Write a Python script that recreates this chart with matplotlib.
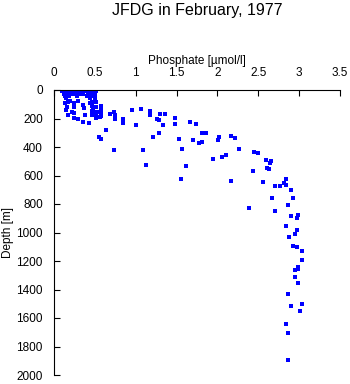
import matplotlib
matplotlib.use("Agg")
import matplotlib.pyplot as plt

plt.rcParams['font.family'] = ['Liberation Sans', 'DejaVu Sans']

title = "JFDG in February, 1977"
x_label = "Phosphate [\u00b5mol/l]"
y_label = "Depth [m]"
x_ticks = [0, 0.5, 1, 1.5, 2, 2.5, 3, 3.5]
x_tick_labels = ["0", "0.5", "1", "1.5", "2", "2.5", "3", "3.5"]
y_ticks = list(range(0, 2001, 200))

# surface samples (dense cluster near 0-250 m)
surface_phos = [0.10, 0.13, 0.15, 0.18, 0.20, 0.23, 0.25, 0.28, 0.31, 0.35, 0.38, 0.42, 0.45, 0.48, 0.51,
                0.12, 0.16, 0.19, 0.22, 0.26, 0.30, 0.36, 0.41, 0.46, 0.50,
                0.13, 0.18, 0.28, 0.40, 0.47,
                0.15, 0.20, 0.13, 0.17, 0.24, 0.29, 0.24, 0.16, 0.15, 0.22, 0.24, 0.17, 0.24, 0.29, 0.35, 0.43,
                0.35, 0.37, 0.38, 0.44, 0.46, 0.44, 0.50, 0.52, 0.46, 0.48, 0.52, 0.58, 0.58, 0.46, 0.51,
                0.57, 0.57, 0.52, 0.56, 0.46, 0.52, 0.56, 0.58, 0.55, 0.57, 0.64]
surface_depth = [5, 5, 5, 5, 5, 5, 5, 5, 5, 5, 5, 5, 5, 5, 5,
                 25, 25, 25, 25, 25, 25, 25, 25, 25, 25,
                 40, 40, 40, 40, 40,
                 58, 77, 93, 86, 93, 77, 121, 121, 140, 152, 164, 175, 194, 204, 222, 234,
                 105, 128, 175, 58, 82, 93, 58, 82, 110, 128, 117, 110, 133, 147, 152,
                 152, 171, 180, 187, 175, 199, 157, 185, 332, 346, 283]

# deeper samples
deep_phos = [0.69, 0.74, 0.75, 0.75, 0.85, 0.85, 0.96, 1.06, 1.17, 1.17, 1.30, 1.36, 1.26, 1.28,
             1.34, 1.00, 1.28, 1.21, 0.74, 1.09, 1.13, 1.48, 1.48, 1.66, 1.74, 1.81, 1.86, 1.53,
             1.70, 1.77, 1.81, 1.57, 2.02, 2.01, 2.17, 2.21, 2.26, 1.94, 2.06, 2.11, 1.62, 2.45,
             2.50, 1.55, 2.17, 2.59, 2.64, 2.66, 2.61, 2.63, 2.43, 2.56, 2.84, 2.82, 2.84, 2.70,
             2.76, 2.90, 2.67, 2.93, 2.86, 2.39, 2.70, 2.90, 2.99, 2.97, 2.84, 2.97, 2.95, 2.88,
             2.93, 2.97, 3.03, 3.03, 2.99, 2.99, 2.95, 2.95, 2.99, 2.86, 2.90, 3.03, 3.01, 2.84,
             2.86, 2.86]
deep_depth = [171, 152, 178, 206, 206, 234, 142, 135, 149, 178, 171, 171, 206, 213,
              248, 248, 304, 332, 423, 423, 528, 199, 241, 227, 241, 304, 304, 346,
              353, 374, 367, 412, 332, 354, 325, 339, 414, 486, 472, 458, 531, 437,
              440, 627, 641, 493, 514, 500, 549, 557, 571, 648, 627, 655, 669, 676,
              676, 704, 760, 760, 809, 826, 851, 882, 875, 900, 957, 985, 1013, 1033,
              1097, 1104, 1130, 1195, 1240, 1254, 1265, 1315, 1357, 1434, 1516, 1500, 1549, 1640,
              1707, 1897]

fig = plt.figure(figsize=(3.5, 3.84), dpi=100)
ax = fig.add_axes([54 / 350, 1 - 375 / 384, (340 - 54) / 350, (375 - 90) / 384])

ax.plot(surface_phos + deep_phos, surface_depth + deep_depth, linestyle='none',
        marker='s', markersize=2.3, color='#0000ff', markeredgewidth=0,
        antialiased=False)

ax.set_xlim(0, 3.5)
ax.set_ylim(2000, 0)
ax.xaxis.set_ticks_position('top')
ax.xaxis.set_label_position('top')
ax.set_xticks(x_ticks)
ax.set_xticklabels(x_tick_labels)
ax.set_yticks(y_ticks)
ax.tick_params(axis='both', direction='in', length=4, width=0.8, labelsize=8.5, pad=8)
ax.spines['right'].set_visible(False)
ax.spines['bottom'].set_visible(False)
for s in ('left', 'top'):
    ax.spines[s].set_linewidth(0.8)
ax.set_xlabel(x_label, fontsize=8.5, labelpad=2)
ax.set_ylabel(y_label, fontsize=8.5, labelpad=2)

fig.text(197 / 350, 1 - 11 / 384, title, ha='center', va='center', fontsize=11.5)

fig.savefig("out.png", dpi=100)
